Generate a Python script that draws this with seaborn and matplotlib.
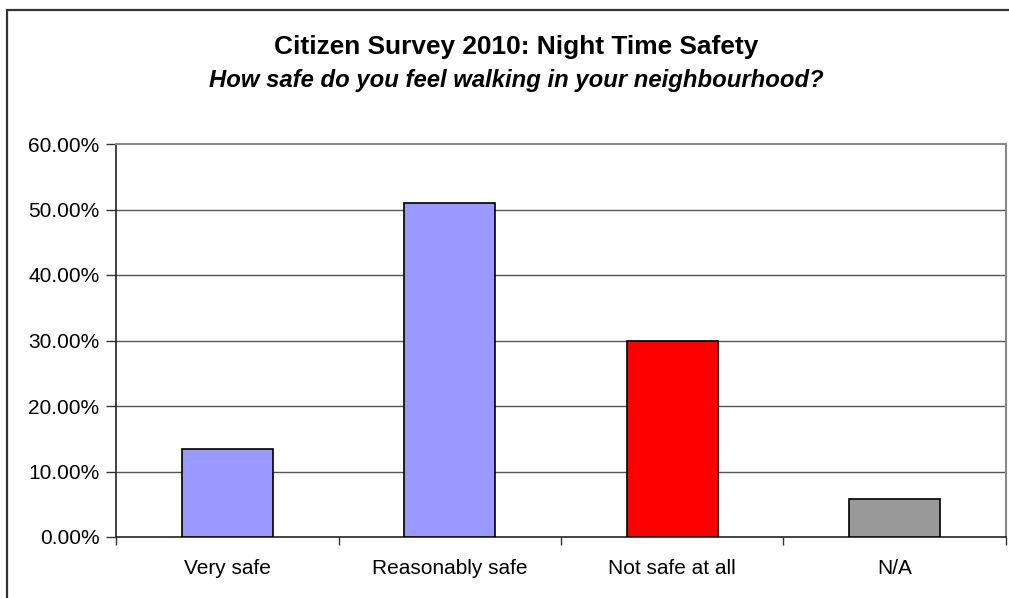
import matplotlib
matplotlib.use("Agg")
import matplotlib.pyplot as plt
import seaborn as sns
import pandas as pd
from matplotlib.ticker import FuncFormatter, FixedLocator
from matplotlib.patches import Rectangle

categories = ["Very safe", "Reasonably safe", "Not safe at all", "N/A"]
shares = [13.5, 51.0, 30.0, 5.8]  # percent of respondents
bar_colors = ["#9999FF", "#9999FF", "#FF0000", "#999999"]
y_ticks = [0, 10, 20, 30, 40, 50, 60]

title = "Citizen Survey 2010: Night Time Safety"
subtitle = "How safe do you feel walking in your neighbourhood?"

sns.set_style("white")
plt.rcParams["font.family"] = ["Liberation Sans", "DejaVu Sans"]
plt.rcParams["text.color"] = "black"

df = pd.DataFrame({"category": categories, "share": shares})

W, H = 1009, 598
fig = plt.figure(figsize=(W / 100, H / 100), dpi=100)
ax = fig.add_axes([116 / W, 1 - 537 / H, (1006 - 116) / W, (537 - 144) / H])

sns.barplot(data=df, x="category", y="share", hue="category",
            palette=bar_colors, legend=False, width=0.41,
            edgecolor="black", linewidth=1.2, saturation=1, ax=ax, zorder=3)

ax.set_ylim(0, 60)
ax.set_xlim(-0.5, len(categories) - 0.5)
ax.yaxis.set_major_locator(FixedLocator(y_ticks))
ax.yaxis.set_major_formatter(FuncFormatter(lambda v, _: f"{v:.2f}%"))
ax.set_xlabel("")
ax.set_ylabel("")

# horizontal gridlines
for v in y_ticks[1:-1]:
    ax.axhline(v, color="#555555", linewidth=1, zorder=1)

# x tick marks sit between categories
ax.xaxis.set_minor_locator(FixedLocator([i - 0.5 for i in range(len(categories) + 1)]))
ax.tick_params(axis="x", which="major", length=0, pad=16, labelsize=15, labelcolor="black")
ax.tick_params(axis="x", which="minor", length=6, width=1, color="#333333", direction="out", bottom=True)
ax.tick_params(axis="y", which="major", length=7, width=1, color="#333333", direction="out",
               left=True, pad=5, labelsize=15, labelcolor="black")

for side in ["left", "bottom"]:
    ax.spines[side].set_color("#222222")
    ax.spines[side].set_linewidth(1.2)
for side in ["top", "right"]:
    ax.spines[side].set_color("#888888")
    ax.spines[side].set_linewidth(1.5)
    ax.spines[side].set_visible(True)

fig.text(516 / W, 1 - 47 / H, title, ha="center", va="center",
         fontsize=18.9, fontweight="bold", color="black")
fig.text(516 / W, 1 - 80 / H, subtitle, ha="center", va="center",
         fontsize=17.2, fontweight="bold", fontstyle="italic", color="black")

# chart frame
fig.patches.append(Rectangle((7 / W, -0.1), 1.2, 1 - 10 / H + 0.1,
                             transform=fig.transFigure, fill=False,
                             edgecolor="#333333", linewidth=1.6))

fig.savefig("out.png", dpi=100)
